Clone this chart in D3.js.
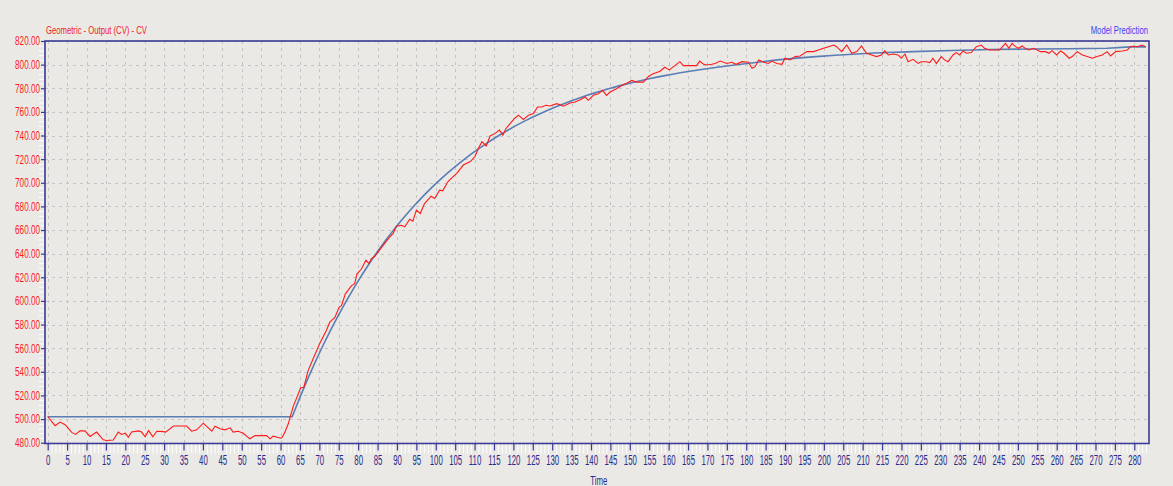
<!DOCTYPE html>
<html><head><meta charset="utf-8">
<script src="https://cdn.jsdelivr.net/npm/d3@7/dist/d3.min.js"></script>
<style>
html,body{margin:0;padding:0;background:#ebe9e5;}
svg{display:block;}
text{font-family:"Liberation Sans",Arial,sans-serif;}
</style></head><body>
<svg id="chart" width="1173" height="486"></svg>
<script>
// ---- data ----
const titleLeft = "Geometric - Output (CV) - CV";
const titleRight = "Model Prediction";
const xTitle = "Time";
const xTickValues = [0,5,10,15,20,25,30,35,40,45,50,55,60,65,70,75,80,85,90,95,100,105,110,115,120,125,130,135,140,145,150,155,160,165,170,175,180,185,190,195,200,205,210,215,220,225,230,235,240,245,250,255,260,265,270,275,280];
const yTickValues = [480,500,520,540,560,580,600,620,640,660,680,700,720,740,760,780,800,820];

const redTime = [0,1.9,3.2,4.5,6.2,7.2,8.3,9.6,10.9,12.6,14.3,15.2,16.9,18.2,19,20,20.8,21.6,23.4,24.2,25.1,26,27.1,28.1,29.8,30.4,32.4,35.8,37.1,38.4,40.1,40.9,42.3,43.1,44.4,45.7,47,47.8,49.1,50.4,52.1,53.4,55.2,56.4,57.3,58.1,59.9,60.3,61,62,62.5,63.3,65.2,66,67.1,68.4,70.1,71.8,72.7,74,75.1,75.7,76.7,78.3,79.1,79.7,80.8,82,82.8,83.4,84.3,85.5,86.8,88.1,89,89.8,91.1,92,93.3,94.1,95,96,97.1,98.8,99.7,101,101.8,103.1,104.4,105.4,107.1,108.9,110.1,111,111.9,113,114,115.3,116.4,117.3,118.1,119.2,120.3,121.3,122.6,123.9,125.2,126.2,127.3,128.4,129.4,131.2,132.9,134.6,135.9,137.2,138.5,139.3,140.6,141.9,143,144,144.9,146.6,147.9,149.2,150.5,151.7,153.5,154.8,156,157.8,159,160.2,161.6,162.9,163.8,165.5,167.2,168,168.9,169.8,171.1,172,173.3,175,176.3,177.4,178.9,180.6,181.5,182.3,183.2,184.5,185.7,186.6,187.9,189.2,190,191.3,192.6,193.9,195.6,197.3,198.6,199.9,201.2,202.5,203.3,204.6,205.9,207.2,208.5,209.7,211,212.3,213.6,214.8,215.7,216.6,217.9,219.1,220,220.9,221.7,223,224.3,225.1,226.4,227.3,228.1,229,230.3,231.1,232,233.3,234.1,235,235.9,236.7,238,239.3,240.6,241.4,242.7,244.5,245.3,246.8,247.7,248.5,249.4,250.2,251.1,251.9,252.8,254.1,255,255.8,257.1,258,258.8,260,261,261.9,263.2,264,265.3,266.6,267.9,269.2,270.4,271.7,273,273.9,275.2,276.9,278.2,279.1,279.9,280.7,282,282.9];
const redValue = [502.2,494.4,497.5,495.2,488.7,487,490.1,490,485.3,489,482.5,481.9,482.3,489,487,488,484.6,489,490,489,485,490.2,485,489.7,489.4,489,494.1,494.1,489.7,490.9,496.5,494,489.7,494,491.8,490.9,492.6,489,489.7,488,483.3,486,486,486,483.3,485.5,484,484,488,496,502,511,526.5,527,541,551,564,575,582,586,594.8,596,606,613,614.6,623,626.8,634.4,631.6,635.8,637.8,643,648.5,654,657,663.2,664,662.7,669.2,667.5,676.8,674,682.4,688.6,686.7,693.7,693.2,700.8,705,708,715,718,722.2,729.2,734.8,731.2,739.6,741.8,744.6,740.4,746,750.2,754.4,757.2,753.6,757.2,758.6,764.2,764.2,765.6,765,767,764.8,767.6,768.4,770.3,772.6,769.8,774,775.4,778.2,774,776.8,779.6,782.4,784.3,786.6,785.2,785.2,790,792.2,794.4,797.8,795.5,799.2,802.5,799.2,799.2,799.2,803,800.6,799.7,800.3,801,803,801,802,800.3,802.5,802,797,798.3,804,802,801,803,801,800.3,805.4,804,806.8,807.3,811,811,812.4,813.8,815.2,816.6,815.2,811,816.6,809.6,811,815.8,809.6,808.2,806.8,808.2,811.6,808.2,809,808.2,805.4,809,802.5,804.5,801,802.5,802.5,801.7,805.4,801,806.8,804,802.5,808.2,810.2,808.2,811.6,809.6,810.2,815.2,816.6,813.8,812.4,812.4,812.4,818,813.8,818,815.2,813.8,815.8,813.8,812.4,813.8,812.4,811,811,809.6,811.8,808.2,811.6,809.6,805.4,806.8,811,808.2,806.8,805.4,806.8,808.2,811,807.3,811,811.6,812.4,815.2,815.8,815.2,816.6,815.2];

const blueTime = [0,63,65,67,69,71,73,75,77,79,81,83,85,87,89,91,93,95,97,99,101,103,105,107,109,111,113,115,117,119,121,123,125,127,129,131,133,135,137,139,141,143,145,147,149,151,153,155,157,159,161,163,168,173,178,183,188,193,198,203,213,223,233,243,253,263,273,279,283];
const blueValue = [502,502,518.4,534,548.7,562.7,575.9,588.4,600.3,611.5,622.2,632.3,641.8,650.9,659.5,667.6,675.3,682.6,689.5,696.1,702.3,708.2,713.7,719,724,728.7,733.2,737.5,741.5,745.3,749,752.4,755.6,758.7,761.6,764.4,766.9,769.4,771.8,774,776.1,778.1,780,781.8,783.5,785.1,786.6,788,789.4,790.7,791.9,793.1,795.7,798,800.1,802,804,805.5,806.8,808,809.8,811,812,812.8,813.2,813.5,813.8,815,815];

// ---- drawing ----
const svg = d3.select("#chart");
const navy = "#3a3a96";
const frame = {left:45, right:1149, top:41, bottom:443.5};
const x = d3.scaleLinear().domain([0,280]).range([47.7,1134.3]);
const y = d3.scaleLinear().domain([480,820]).range([442.7,41]);

svg.append("rect").attr("width",1173).attr("height",486).attr("fill","#ebe9e5");

// grid
const grid = svg.append("g").attr("stroke","#c4c4c4").attr("stroke-width",1).attr("stroke-dasharray","3,4").attr("shape-rendering","crispEdges");
grid.selectAll("line.v").data(xTickValues).join("line").attr("class","v")
  .attr("x1",d=>Math.round(x(d))+0.5).attr("x2",d=>Math.round(x(d))+0.5)
  .attr("y1",frame.top).attr("y2",frame.bottom);
grid.selectAll("line.h").data(yTickValues).join("line").attr("class","h")
  .attr("x1",frame.left).attr("x2",frame.right)
  .attr("y1",d=>Math.round(y(d))+0.5).attr("y2",d=>Math.round(y(d))+0.5);

// lines
const lineGen = d3.line().x(d=>x(d[0])).y(d=>y(d[1]));
svg.append("path").datum(blueTime.map((t,i)=>[t,blueValue[i]]))
  .attr("fill","none").attr("stroke","#5b7db6").attr("stroke-width",1.6).attr("d",lineGen);
svg.append("path").datum(redTime.map((t,i)=>[t,redValue[i]]))
  .attr("fill","none").attr("stroke","#ff1a1a").attr("stroke-width",1.1).attr("d",lineGen);

// frame
svg.append("rect").attr("x",frame.left).attr("y",frame.top)
  .attr("width",frame.right-frame.left).attr("height",frame.bottom-frame.top)
  .attr("fill","none").attr("stroke",navy).attr("stroke-width",1.6);

// x minor ticks (white)
const xMinor = d3.range(0,284,1).filter(v=>v%5!==0);
svg.append("g").attr("transform",`translate(0,${frame.bottom+1})`)
  .call(d3.axisBottom(x).tickValues(xMinor).tickSize(9).tickFormat("").tickSizeOuter(0))
  .call(g=>g.select(".domain").remove())
  .call(g=>g.selectAll("line").attr("stroke","#ffffff"));
// x major ticks
const xAx = svg.append("g").attr("transform",`translate(0,${frame.bottom})`)
  .call(d3.axisBottom(x).tickValues(xTickValues).tickSize(7).tickSizeOuter(0).tickPadding(4).tickFormat(d3.format("d")));
xAx.select(".domain").remove();
xAx.selectAll("line").attr("stroke",navy).attr("stroke-width",1.2);
xAx.selectAll("text").attr("fill","#2a2a8c").attr("font-size",15)
  .attr("transform","scale(0.52,1)");

// y minor ticks (white)
const yMinor = d3.range(480,821,4).filter(v=>v%20!==0);
svg.append("g").attr("transform",`translate(${frame.left-1},0)`)
  .call(d3.axisLeft(y).tickValues(yMinor).tickSize(5).tickFormat("").tickSizeOuter(0))
  .call(g=>g.select(".domain").remove())
  .call(g=>g.selectAll("line").attr("stroke","#ffffff"));
const yAx = svg.append("g").attr("transform",`translate(${frame.left},0)`)
  .call(d3.axisLeft(y).tickValues(yTickValues).tickSize(4).tickSizeOuter(0).tickFormat(d3.format(".2f")));
yAx.select(".domain").remove();
yAx.selectAll("line").attr("stroke",navy).attr("stroke-width",1.2);
yAx.selectAll("text").attr("fill","#ff1a1a").attr("font-size",12)
  .attr("x",-5/0.68).attr("transform","scale(0.68,1)");

// titles
svg.append("text").attr("transform","translate(46,34) scale(0.7,1)")
  .attr("font-size",11).attr("fill","#ee1c24").text(titleLeft);
svg.append("text").attr("transform","translate(1148,34) scale(0.7,1)")
  .attr("font-size",11).attr("fill","#3c3cf5").attr("text-anchor","end").text(titleRight);
svg.append("text").attr("transform",`translate(${x(142)},485) scale(0.6,1)`)
  .attr("font-size",13).attr("fill","#2a2a8c").attr("text-anchor","middle").text(xTitle);
</script>
</body></html>
